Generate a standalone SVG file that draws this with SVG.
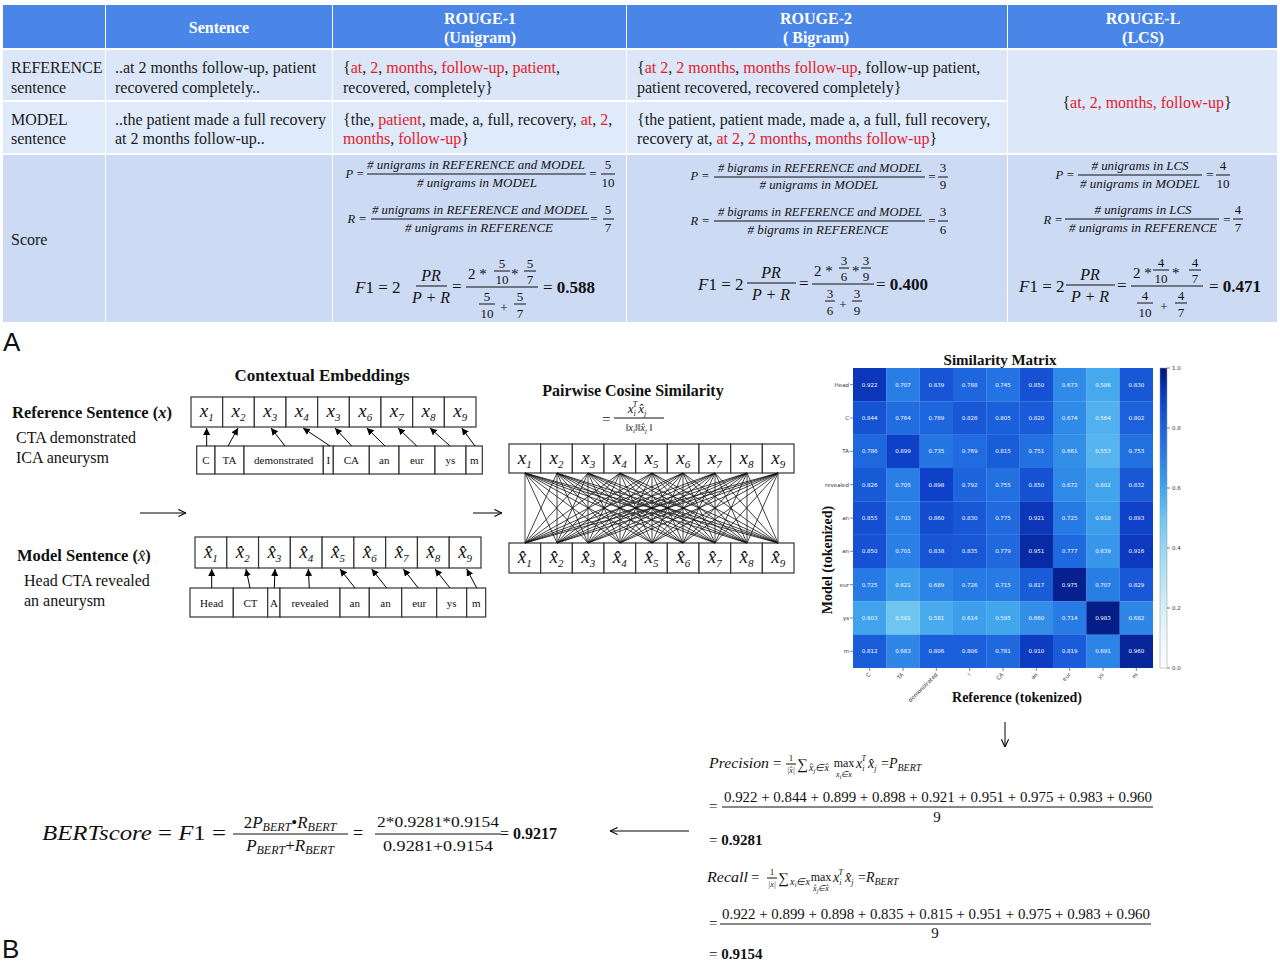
<svg xmlns="http://www.w3.org/2000/svg" width="1280" height="962" viewBox="0 0 1280 962">
<defs>
<style>
.tb{font-family:"Liberation Serif",serif;font-size:16px;fill:#1a1a1a}
.th{font-family:"Liberation Serif",serif;font-size:16px;font-weight:bold;fill:#fff;text-anchor:middle}
.r{fill:#e3192c}
.fi{font-family:"Liberation Serif",serif;font-style:italic;font-size:12.5px;text-anchor:middle;fill:#111}
.fn{font-family:"Liberation Serif",serif;font-size:13px;text-anchor:middle;fill:#111}
.fm{font-family:"Liberation Serif",serif;font-size:17px;fill:#111}
.fmc{font-family:"Liberation Serif",serif;font-size:16px;font-style:italic;text-anchor:middle;fill:#111}
.fl{stroke:#111;stroke-width:1}
.box{fill:#fff;stroke:#333;stroke-width:1.2}
.tok{font-family:"Liberation Serif",serif;font-size:11px;text-anchor:middle;fill:#111}
.emb{font-family:"Liberation Serif",serif;font-style:italic;font-size:19px;text-anchor:middle;fill:#111}
.ttl{font-family:"Liberation Serif",serif;font-weight:bold;fill:#111}
.sen{font-family:"Liberation Serif",serif;font-size:16px;fill:#111}
.cv{font-family:"DejaVu Sans",sans-serif;font-size:5.5px;fill:#fff;text-anchor:middle}
.ax{font-family:"DejaVu Sans",sans-serif;font-size:5.5px;fill:#333}
.arr{stroke:#000;stroke-width:1;fill:none}
.mt{font-family:"Liberation Serif",serif;fill:#111}
</style>
<marker id="ah" viewBox="0 0 10 10" refX="10" refY="5" markerWidth="7" markerHeight="7" orient="auto"><path d="M0,0 L10,5 L0,10 z" fill="#000"/></marker>
<marker id="oa" viewBox="0 0 10 10" refX="9.5" refY="5" markerWidth="9" markerHeight="9" orient="auto"><path d="M1,1 L9.5,5 L1,9" fill="none" stroke="#000" stroke-width="1.2"/></marker>
<linearGradient id="cb" x1="0" y1="0" x2="0" y2="1">
<stop offset="0" stop-color="#041678"/><stop offset="0.05" stop-color="#082aa5"/><stop offset="0.1" stop-color="#0e40c8"/><stop offset="0.2" stop-color="#1c62dc"/><stop offset="0.3" stop-color="#2a80e6"/><stop offset="0.4" stop-color="#40a4ec"/><stop offset="0.5" stop-color="#6ec6f0"/><stop offset="0.65" stop-color="#a8def5"/><stop offset="0.8" stop-color="#d6eff9"/><stop offset="1" stop-color="#ffffff"/>
</linearGradient>
</defs>
<rect width="1280" height="962" fill="#fff"/>

<!-- PANEL A: table -->
<g id="table">
<g id="header" fill="#4a86e8">
<rect x="3" y="5" width="102" height="43"/>
<rect x="106" y="5" width="226" height="43"/>
<rect x="333" y="5" width="293" height="43"/>
<rect x="627" y="5" width="380" height="43"/>
<rect x="1008" y="5" width="269" height="43"/>
</g>
<g id="rows">
<rect x="3" y="50" width="102" height="50" fill="#dbe7f8"/>
<rect x="106" y="50" width="226" height="50" fill="#dbe7f8"/>
<rect x="333" y="50" width="293" height="50" fill="#dbe7f8"/>
<rect x="627" y="50" width="380" height="50" fill="#dbe7f8"/>
<rect x="3" y="102" width="102" height="51" fill="#dfeafa"/>
<rect x="106" y="102" width="226" height="51" fill="#dfeafa"/>
<rect x="333" y="102" width="293" height="51" fill="#dfeafa"/>
<rect x="627" y="102" width="380" height="51" fill="#dfeafa"/>
<rect x="1008" y="50" width="269" height="103" fill="#dde9f9"/>
<rect x="3" y="155" width="102" height="167" fill="#cddaf4"/>
<rect x="106" y="155" width="226" height="167" fill="#cddaf4"/>
<rect x="333" y="155" width="293" height="167" fill="#cddaf4"/>
<rect x="627" y="155" width="380" height="167" fill="#cddaf4"/>
<rect x="1008" y="155" width="269" height="167" fill="#cddaf4"/>
</g>
<g id="header-text">
<text class="th" x="219" y="33">Sentence</text>
<text class="th" x="480" y="24">ROUGE-1</text>
<text class="th" x="480" y="43">(Unigram)</text>
<text class="th" x="816" y="24">ROUGE-2</text>
<text class="th" x="816" y="43">( Bigram)</text>
<text class="th" x="1143" y="24">ROUGE-L</text>
<text class="th" x="1143" y="43">(LCS)</text>
</g>
<g id="row-reference">
<text class="tb" x="11" y="73">REFERENCE</text>
<text class="tb" x="11" y="93">sentence</text>
<text class="tb" x="115" y="73">..at 2 months follow-up, patient</text>
<text class="tb" x="115" y="93">recovered completely..</text>
<text class="tb" x="343" y="73">{<tspan class="r">at</tspan>, <tspan class="r">2</tspan>, <tspan class="r">months</tspan>, <tspan class="r">follow-up</tspan>, <tspan class="r">patient</tspan>,</text>
<text class="tb" x="343" y="93">recovered, completely}</text>
<text class="tb" x="637" y="73">{<tspan class="r">at 2</tspan>, <tspan class="r">2 months</tspan>, <tspan class="r">months follow-up</tspan>, follow-up patient,</text>
<text class="tb" x="637" y="93">patient recovered, recovered completely}</text>
</g>
<g id="row-model">
<text class="tb" x="11" y="125">MODEL</text>
<text class="tb" x="11" y="144">sentence</text>
<text class="tb" x="115" y="125">..the patient made a full recovery</text>
<text class="tb" x="115" y="144">at 2 months follow-up..</text>
<text class="tb" x="343" y="125">{the, <tspan class="r">patient</tspan>, made, a, full, recovery, <tspan class="r">at</tspan>, <tspan class="r">2</tspan>,</text>
<text class="tb" x="343" y="144"><tspan class="r">months</tspan>, <tspan class="r">follow-up</tspan>}</text>
<text class="tb" x="637" y="125">{the patient, patient made, made a, a full, full recovery,</text>
<text class="tb" x="637" y="144">recovery at, <tspan class="r">at 2</tspan>, <tspan class="r">2 months</tspan>, <tspan class="r">months follow-up</tspan>}</text>
</g>
<g id="lcs-cell">
<text class="tb" x="1147" y="108" text-anchor="middle">{<tspan class="r">at, 2, months, follow-up</tspan>}</text>
</g>
<text class="tb" x="11" y="245">Score</text>

<g id="score-rouge1">
<text class="fi" x="355" y="178">P =</text>
<text class="fi" x="476" y="169" textLength="218" lengthAdjust="spacingAndGlyphs"># unigrams in REFERENCE and MODEL</text>
<line class="fl" x1="367" y1="174" x2="586" y2="174"/>
<text class="fi" x="477" y="187" textLength="120" lengthAdjust="spacingAndGlyphs"># unigrams in MODEL</text>
<text class="fn" x="593" y="178">=</text>
<text class="fn" x="608" y="169">5</text>
<line class="fl" x1="601" y1="174" x2="615" y2="174"/>
<text class="fn" x="608" y="187">10</text>
<text class="fi" x="357" y="223">R =</text>
<text class="fi" x="480" y="214" textLength="216" lengthAdjust="spacingAndGlyphs"># unigrams in REFERENCE and MODEL</text>
<line class="fl" x1="371" y1="219" x2="589" y2="219"/>
<text class="fi" x="479" y="232" textLength="148" lengthAdjust="spacingAndGlyphs"># unigrams in REFERENCE</text>
<text class="fn" x="594" y="223">=</text>
<text class="fn" x="608" y="214">5</text>
<line class="fl" x1="603" y1="219" x2="614" y2="219"/>
<text class="fn" x="608" y="232">7</text>
<text class="fm" x="355" y="293"><tspan font-style="italic">F</tspan>1 = 2</text>
<text class="fmc" x="431" y="281">PR</text>
<line class="fl" x1="416" y1="286" x2="447" y2="286"/>
<text class="fmc" x="431" y="303">P + R</text>
<text class="fm" x="452" y="292">=</text>
<text class="mt" x="468" y="279" font-size="15">2 *</text>
<text class="fn" x="502" y="268">5</text>
<line class="fl" x1="494" y1="271" x2="510" y2="271"/>
<text class="fn" x="502" y="284">10</text>
<text class="mt" x="511" y="279" font-size="15">*</text>
<text class="fn" x="530" y="268">5</text>
<line class="fl" x1="524" y1="271" x2="536" y2="271"/>
<text class="fn" x="530" y="284">7</text>
<line class="fl" x1="466" y1="287" x2="538" y2="287"/>
<text class="fn" x="487" y="301">5</text>
<line class="fl" x1="479" y1="304" x2="495" y2="304"/>
<text class="fn" x="487" y="318">10</text>
<text class="fn" x="504" y="312" font-size="16">+</text>
<text class="fn" x="520" y="301">5</text>
<line class="fl" x1="514" y1="304" x2="526" y2="304"/>
<text class="fn" x="520" y="318">7</text>
<text class="fm" x="543" y="293">= <tspan font-weight="bold">0.588</tspan></text>
</g>

<g id="score-rouge2">
<text class="fi" x="700" y="180">P =</text>
<text class="fi" x="820" y="172" textLength="204" lengthAdjust="spacingAndGlyphs"># bigrams in REFERENCE and MODEL</text>
<line class="fl" x1="714" y1="177" x2="925" y2="177"/>
<text class="fi" x="819" y="189" textLength="119" lengthAdjust="spacingAndGlyphs"># unigrams in MODEL</text>
<text class="fn" x="932" y="181">=</text>
<text class="fn" x="943" y="172">3</text>
<line class="fl" x1="938" y1="177" x2="948" y2="177"/>
<text class="fn" x="943" y="189">9</text>
<text class="fi" x="700" y="225">R =</text>
<text class="fi" x="820" y="216" textLength="204" lengthAdjust="spacingAndGlyphs"># bigrams in REFERENCE and MODEL</text>
<line class="fl" x1="714" y1="221" x2="925" y2="221"/>
<text class="fi" x="818" y="234" textLength="141" lengthAdjust="spacingAndGlyphs"># bigrams in REFERENCE</text>
<text class="fn" x="932" y="225">=</text>
<text class="fn" x="943" y="216">3</text>
<line class="fl" x1="938" y1="221" x2="948" y2="221"/>
<text class="fn" x="943" y="234">6</text>
<text class="fm" x="698" y="290"><tspan font-style="italic">F</tspan>1 = 2</text>
<text class="fmc" x="771" y="278">PR</text>
<line class="fl" x1="747" y1="283" x2="796" y2="283"/>
<text class="fmc" x="771" y="300">P + R</text>
<text class="fm" x="799" y="289">=</text>
<text class="mt" x="814" y="276" font-size="15">2 *</text>
<text class="fn" x="844" y="265">3</text>
<line class="fl" x1="839" y1="268" x2="849" y2="268"/>
<text class="fn" x="844" y="281">6</text>
<text class="mt" x="852" y="276" font-size="15">*</text>
<text class="fn" x="866" y="265">3</text>
<line class="fl" x1="861" y1="268" x2="871" y2="268"/>
<text class="fn" x="866" y="281">9</text>
<line class="fl" x1="812" y1="284" x2="874" y2="284"/>
<text class="fn" x="830" y="298">3</text>
<line class="fl" x1="825" y1="301" x2="835" y2="301"/>
<text class="fn" x="830" y="315">6</text>
<text class="fn" x="843" y="309" font-size="16">+</text>
<text class="fn" x="857" y="298">3</text>
<line class="fl" x1="852" y1="301" x2="862" y2="301"/>
<text class="fn" x="857" y="315">9</text>
<text class="fm" x="876" y="290">= <tspan font-weight="bold">0.400</tspan></text>
</g>

<g id="score-rougeL">
<text class="fi" x="1065" y="179">P =</text>
<text class="fi" x="1140" y="170" textLength="97" lengthAdjust="spacingAndGlyphs"># unigrams in LCS</text>
<line class="fl" x1="1078" y1="175" x2="1202" y2="175"/>
<text class="fi" x="1140" y="188" textLength="120" lengthAdjust="spacingAndGlyphs"># unigrams in MODEL</text>
<text class="fn" x="1210" y="179">=</text>
<text class="fn" x="1223" y="170">4</text>
<line class="fl" x1="1216" y1="175" x2="1230" y2="175"/>
<text class="fn" x="1223" y="188">10</text>
<text class="fi" x="1053" y="224">R =</text>
<text class="fi" x="1143" y="214" textLength="97" lengthAdjust="spacingAndGlyphs"># unigrams in LCS</text>
<line class="fl" x1="1065" y1="219" x2="1219" y2="219"/>
<text class="fi" x="1143" y="232" textLength="148" lengthAdjust="spacingAndGlyphs"># unigrams in REFERENCE</text>
<text class="fn" x="1227" y="224">=</text>
<text class="fn" x="1238" y="214">4</text>
<line class="fl" x1="1233" y1="219" x2="1243" y2="219"/>
<text class="fn" x="1238" y="232">7</text>
<text class="fm" x="1019" y="292"><tspan font-style="italic">F</tspan>1 = 2</text>
<text class="fmc" x="1090" y="280">PR</text>
<line class="fl" x1="1066" y1="285" x2="1115" y2="285"/>
<text class="fmc" x="1090" y="302">P + R</text>
<text class="fm" x="1117" y="291">=</text>
<text class="mt" x="1133" y="278" font-size="15">2 *</text>
<text class="fn" x="1161" y="267">4</text>
<line class="fl" x1="1153" y1="270" x2="1169" y2="270"/>
<text class="fn" x="1161" y="283">10</text>
<text class="mt" x="1172" y="278" font-size="15">*</text>
<text class="fn" x="1195" y="267">4</text>
<line class="fl" x1="1189" y1="270" x2="1201" y2="270"/>
<text class="fn" x="1195" y="283">7</text>
<line class="fl" x1="1131" y1="286" x2="1203" y2="286"/>
<text class="fn" x="1145" y="300">4</text>
<line class="fl" x1="1137" y1="303" x2="1153" y2="303"/>
<text class="fn" x="1145" y="317">10</text>
<text class="fn" x="1164" y="311" font-size="16">+</text>
<text class="fn" x="1181" y="300">4</text>
<line class="fl" x1="1175" y1="303" x2="1187" y2="303"/>
<text class="fn" x="1181" y="317">7</text>
<text class="fm" x="1209" y="292">= <tspan font-weight="bold">0.471</tspan></text>
</g>
</g>

<text x="3" y="351" font-family="Liberation Sans, sans-serif" font-size="26" fill="#111">A</text>
<text x="2" y="958" font-family="Liberation Sans, sans-serif" font-size="26" fill="#111">B</text>

<!-- PANEL B -->
<text class="ttl" x="322" y="381" font-size="17" text-anchor="middle">Contextual Embeddings</text>

<g id="reference-sentence">
<text class="ttl" x="12" y="418" font-size="16.5">Reference Sentence (<tspan font-style="italic">x</tspan>)</text>
<text class="sen" x="16" y="443">CTA demonstrated</text>
<text class="sen" x="16" y="463">ICA aneurysm</text>
</g>

<g id="reference-embeddings">
<rect class="box" x="191" y="397" width="31.67" height="30"/>
<rect class="box" x="222.67" y="397" width="31.67" height="30"/>
<rect class="box" x="254.33" y="397" width="31.67" height="30"/>
<rect class="box" x="286" y="397" width="31.67" height="30"/>
<rect class="box" x="317.67" y="397" width="31.67" height="30"/>
<rect class="box" x="349.33" y="397" width="31.67" height="30"/>
<rect class="box" x="381" y="397" width="31.67" height="30"/>
<rect class="box" x="412.67" y="397" width="31.67" height="30"/>
<rect class="box" x="444.33" y="397" width="31.67" height="30"/>
<text class="emb" x="206.8" y="417">x<tspan font-size="11" dy="4">1</tspan></text>
<text class="emb" x="238.5" y="417">x<tspan font-size="11" dy="4">2</tspan></text>
<text class="emb" x="270.2" y="417">x<tspan font-size="11" dy="4">3</tspan></text>
<text class="emb" x="301.8" y="417">x<tspan font-size="11" dy="4">4</tspan></text>
<text class="emb" x="333.5" y="417">x<tspan font-size="11" dy="4">3</tspan></text>
<text class="emb" x="365.2" y="417">x<tspan font-size="11" dy="4">6</tspan></text>
<text class="emb" x="396.8" y="417">x<tspan font-size="11" dy="4">7</tspan></text>
<text class="emb" x="428.5" y="417">x<tspan font-size="11" dy="4">8</tspan></text>
<text class="emb" x="460.2" y="417">x<tspan font-size="11" dy="4">9</tspan></text>
</g>

<g id="reference-tokens">
<rect class="box" x="196.7" y="446" width="18.3" height="28"/>
<rect class="box" x="215" y="446" width="29" height="28"/>
<rect class="box" x="244" y="446" width="79.3" height="28"/>
<rect class="box" x="323.3" y="446" width="10" height="28"/>
<rect class="box" x="333.3" y="446" width="36" height="28"/>
<rect class="box" x="369.3" y="446" width="29.7" height="28"/>
<rect class="box" x="399" y="446" width="36" height="28"/>
<rect class="box" x="435" y="446" width="31" height="28"/>
<rect class="box" x="466" y="446" width="16.3" height="28"/>
<text class="tok" x="205.8" y="464">C</text>
<text class="tok" x="229.5" y="464">TA</text>
<text class="tok" x="283.7" y="464">demonstrated</text>
<text class="tok" x="328.3" y="464">I</text>
<text class="tok" x="351.3" y="464">CA</text>
<text class="tok" x="384.2" y="464">an</text>
<text class="tok" x="417" y="464">eur</text>
<text class="tok" x="450.5" y="464">ys</text>
<text class="tok" x="474.2" y="464">m</text>
</g>

<g id="model-sentence">
<text class="ttl" x="17" y="561" font-size="16.5">Model Sentence (<tspan font-style="italic" font-weight="normal">x&#770;</tspan>)</text>
<text class="sen" x="24" y="586">Head CTA revealed</text>
<text class="sen" x="24" y="606">an aneurysm</text>
</g>

<g id="model-embeddings">
<rect class="box" x="195" y="537" width="31.78" height="31"/>
<rect class="box" x="226.78" y="537" width="31.78" height="31"/>
<rect class="box" x="258.56" y="537" width="31.78" height="31"/>
<rect class="box" x="290.33" y="537" width="31.78" height="31"/>
<rect class="box" x="322.11" y="537" width="31.78" height="31"/>
<rect class="box" x="353.89" y="537" width="31.78" height="31"/>
<rect class="box" x="385.67" y="537" width="31.78" height="31"/>
<rect class="box" x="417.44" y="537" width="31.78" height="31"/>
<rect class="box" x="449.22" y="537" width="31.78" height="31"/>
<text class="emb" x="210.9" y="558">x&#770;<tspan font-size="11" dy="4">1</tspan></text>
<text class="emb" x="242.7" y="558">x&#770;<tspan font-size="11" dy="4">2</tspan></text>
<text class="emb" x="274.4" y="558">x&#770;<tspan font-size="11" dy="4">3</tspan></text>
<text class="emb" x="306.2" y="558">x&#770;<tspan font-size="11" dy="4">4</tspan></text>
<text class="emb" x="338" y="558">x&#770;<tspan font-size="11" dy="4">5</tspan></text>
<text class="emb" x="369.8" y="558">x&#770;<tspan font-size="11" dy="4">6</tspan></text>
<text class="emb" x="401.6" y="558">x&#770;<tspan font-size="11" dy="4">7</tspan></text>
<text class="emb" x="433.3" y="558">x&#770;<tspan font-size="11" dy="4">8</tspan></text>
<text class="emb" x="465.1" y="558">x&#770;<tspan font-size="11" dy="4">9</tspan></text>
</g>

<g id="model-tokens">
<rect class="box" x="190" y="588" width="43.3" height="29"/>
<rect class="box" x="233.3" y="588" width="34.4" height="29"/>
<rect class="box" x="267.7" y="588" width="12.3" height="29"/>
<rect class="box" x="280" y="588" width="60" height="29"/>
<rect class="box" x="340" y="588" width="29.3" height="29"/>
<rect class="box" x="369.3" y="588" width="32.4" height="29"/>
<rect class="box" x="401.7" y="588" width="35" height="29"/>
<rect class="box" x="436.7" y="588" width="30" height="29"/>
<rect class="box" x="466.7" y="588" width="19" height="29"/>
<text class="tok" x="211.7" y="607">Head</text>
<text class="tok" x="250.5" y="607">CT</text>
<text class="tok" x="273.9" y="607">A</text>
<text class="tok" x="310" y="607">revealed</text>
<text class="tok" x="354.7" y="607">an</text>
<text class="tok" x="385.5" y="607">an</text>
<text class="tok" x="419.2" y="607">eur</text>
<text class="tok" x="451.7" y="607">ys</text>
<text class="tok" x="476.2" y="607">m</text>
</g>

<g id="pairwise-title">
<text class="ttl" x="633" y="396" font-size="16" text-anchor="middle">Pairwise Cosine Similarity</text>
<text class="mt" x="602" y="424" font-size="15">=</text>
<text class="mt" x="637" y="413" font-size="13" font-style="italic" text-anchor="middle">x<tspan font-size="8" dy="3">i</tspan><tspan font-size="8" dx="-3" dy="-9">T</tspan><tspan dy="6" dx="1">x&#770;</tspan><tspan font-size="8" dy="3">j</tspan></text>
<line class="fl" x1="614" y1="418" x2="664" y2="418"/>
<text class="mt" x="639" y="431" font-size="10" font-style="italic" text-anchor="middle">‖x<tspan font-size="7" dy="2">i</tspan><tspan dy="-2">‖‖x&#770;</tspan><tspan font-size="7" dy="2">j</tspan><tspan dy="-2"> ‖</tspan></text>
</g>

<g id="pairwise-top">
<rect class="box" x="509" y="444" width="31.67" height="29"/>
<rect class="box" x="540.67" y="444" width="31.67" height="29"/>
<rect class="box" x="572.33" y="444" width="31.67" height="29"/>
<rect class="box" x="604" y="444" width="31.67" height="29"/>
<rect class="box" x="635.67" y="444" width="31.67" height="29"/>
<rect class="box" x="667.33" y="444" width="31.67" height="29"/>
<rect class="box" x="699" y="444" width="31.67" height="29"/>
<rect class="box" x="730.67" y="444" width="31.67" height="29"/>
<rect class="box" x="762.33" y="444" width="31.67" height="29"/>
<text class="emb" x="524.8" y="464">x<tspan font-size="11" dy="4">1</tspan></text>
<text class="emb" x="556.5" y="464">x<tspan font-size="11" dy="4">2</tspan></text>
<text class="emb" x="588.2" y="464">x<tspan font-size="11" dy="4">3</tspan></text>
<text class="emb" x="619.8" y="464">x<tspan font-size="11" dy="4">4</tspan></text>
<text class="emb" x="651.5" y="464">x<tspan font-size="11" dy="4">5</tspan></text>
<text class="emb" x="683.2" y="464">x<tspan font-size="11" dy="4">6</tspan></text>
<text class="emb" x="714.8" y="464">x<tspan font-size="11" dy="4">7</tspan></text>
<text class="emb" x="746.5" y="464">x<tspan font-size="11" dy="4">8</tspan></text>
<text class="emb" x="778.2" y="464">x<tspan font-size="11" dy="4">9</tspan></text>
</g>

<g id="pairwise-bottom">
<rect class="box" x="509" y="543" width="31.67" height="30"/>
<rect class="box" x="540.67" y="543" width="31.67" height="30"/>
<rect class="box" x="572.33" y="543" width="31.67" height="30"/>
<rect class="box" x="604" y="543" width="31.67" height="30"/>
<rect class="box" x="635.67" y="543" width="31.67" height="30"/>
<rect class="box" x="667.33" y="543" width="31.67" height="30"/>
<rect class="box" x="699" y="543" width="31.67" height="30"/>
<rect class="box" x="730.67" y="543" width="31.67" height="30"/>
<rect class="box" x="762.33" y="543" width="31.67" height="30"/>
<text class="emb" x="524.8" y="563">x&#770;<tspan font-size="11" dy="4">1</tspan></text>
<text class="emb" x="556.5" y="563">x&#770;<tspan font-size="11" dy="4">2</tspan></text>
<text class="emb" x="588.2" y="563">x&#770;<tspan font-size="11" dy="4">3</tspan></text>
<text class="emb" x="619.8" y="563">x&#770;<tspan font-size="11" dy="4">4</tspan></text>
<text class="emb" x="651.5" y="563">x&#770;<tspan font-size="11" dy="4">5</tspan></text>
<text class="emb" x="683.2" y="563">x&#770;<tspan font-size="11" dy="4">6</tspan></text>
<text class="emb" x="714.8" y="563">x&#770;<tspan font-size="11" dy="4">7</tspan></text>
<text class="emb" x="746.5" y="563">x&#770;<tspan font-size="11" dy="4">8</tspan></text>
<text class="emb" x="778.2" y="563">x&#770;<tspan font-size="11" dy="4">9</tspan></text>
</g>

<g id="connectors">
<g id="token-arrows" stroke="#000" stroke-width="1" marker-end="url(#ah)">
<line x1="206.7" y1="446" x2="206.6" y2="428"/>
<line x1="228" y1="446" x2="238" y2="428"/>
<line x1="285" y1="446" x2="271" y2="428"/>
<line x1="330" y1="446" x2="303" y2="428"/>
<line x1="351.7" y1="446" x2="335" y2="428"/>
<line x1="385" y1="446" x2="366.7" y2="428"/>
<line x1="416.7" y1="446" x2="398" y2="428"/>
<line x1="450" y1="446" x2="430" y2="428"/>
<line x1="475" y1="446" x2="461.7" y2="428"/>
<line x1="211.7" y1="588" x2="211.7" y2="569"/>
<line x1="250" y1="588" x2="246" y2="569"/>
<line x1="274.3" y1="588" x2="275" y2="569"/>
<line x1="309.3" y1="588" x2="308.3" y2="569"/>
<line x1="355" y1="588" x2="340" y2="569"/>
<line x1="386.7" y1="588" x2="371.7" y2="569"/>
<line x1="418.3" y1="588" x2="403.3" y2="569"/>
<line x1="450" y1="588" x2="435" y2="569"/>
<line x1="476.7" y1="588" x2="466.7" y2="569"/>
</g>
<path id="cosine-links" stroke="#111" stroke-width="0.8" fill="none" d="M525 473L525 543M525 473L557 543M525 473L588 543M525 473L620 543M525 473L652 543M525 473L683 543M525 473L715 543M525 473L747 543M525 473L778 543M557 473L525 543M557 473L557 543M557 473L588 543M557 473L620 543M557 473L652 543M557 473L683 543M557 473L715 543M557 473L747 543M557 473L778 543M588 473L525 543M588 473L557 543M588 473L588 543M588 473L620 543M588 473L652 543M588 473L683 543M588 473L715 543M588 473L747 543M588 473L778 543M620 473L525 543M620 473L557 543M620 473L588 543M620 473L620 543M620 473L652 543M620 473L683 543M620 473L715 543M620 473L747 543M620 473L778 543M652 473L525 543M652 473L557 543M652 473L588 543M652 473L620 543M652 473L652 543M652 473L683 543M652 473L715 543M652 473L747 543M652 473L778 543M683 473L525 543M683 473L557 543M683 473L588 543M683 473L620 543M683 473L652 543M683 473L683 543M683 473L715 543M683 473L747 543M683 473L778 543M715 473L525 543M715 473L557 543M715 473L588 543M715 473L620 543M715 473L652 543M715 473L683 543M715 473L715 543M715 473L747 543M715 473L778 543M747 473L525 543M747 473L557 543M747 473L588 543M747 473L620 543M747 473L652 543M747 473L683 543M747 473L715 543M747 473L747 543M747 473L778 543M778 473L525 543M778 473L557 543M778 473L588 543M778 473L620 543M778 473L652 543M778 473L683 543M778 473L715 543M778 473L747 543M778 473L778 543"/>
<line class="arr" x1="140" y1="513" x2="186" y2="513" marker-end="url(#oa)"/>
<line class="arr" x1="473" y1="513" x2="502" y2="513" marker-end="url(#oa)"/>
<line class="arr" x1="1005" y1="722" x2="1005" y2="747" marker-end="url(#oa)"/>
<line class="arr" x1="689" y1="831" x2="610" y2="831" marker-end="url(#oa)"/>
</g>

<g id="similarity-matrix">
<text class="ttl" x="1000" y="365" font-size="15" text-anchor="middle">Similarity Matrix</text>
<g transform="translate(0,368)">
<rect x="853" width="33.5" height="33.5" fill="#0b36b9"/><rect x="886.3" width="33.5" height="33.5" fill="#297ee5"/><rect x="919.7" width="33.5" height="33.5" fill="#1755d4"/><rect x="953" width="33.5" height="33.5" fill="#1e66dd"/><rect x="986.3" width="33.5" height="33.5" fill="#2473e2"/><rect x="1019.7" width="33.5" height="33.5" fill="#1551d2"/><rect x="1053" width="33.5" height="33.5" fill="#308ae8"/><rect x="1086.3" width="33.5" height="33.5" fill="#46a9ed"/><rect x="1119.7" width="33.3" height="33.5" fill="#1858d6"/>
<text class="cv" y="18.7"><tspan x="869.7">0.922</tspan><tspan x="903">0.707</tspan><tspan x="936.3">0.839</tspan><tspan x="969.7">0.788</tspan><tspan x="1003">0.745</tspan><tspan x="1036.3">0.850</tspan><tspan x="1069.7">0.673</tspan><tspan x="1103">0.586</tspan><tspan x="1136.3">0.830</tspan></text>
</g>
<g transform="translate(0,401.33)">
<rect x="853" width="33.5" height="33.5" fill="#1653d3"/><rect x="886.3" width="33.5" height="33.5" fill="#216de0"/><rect x="919.7" width="33.5" height="33.5" fill="#1e66dd"/><rect x="953" width="33.5" height="33.5" fill="#1858d6"/><rect x="986.3" width="33.5" height="33.5" fill="#1b60db"/><rect x="1019.7" width="33.5" height="33.5" fill="#195bd8"/><rect x="1053" width="33.5" height="33.5" fill="#308ae8"/><rect x="1086.3" width="33.5" height="33.5" fill="#51b0ed"/><rect x="1119.7" width="33.3" height="33.5" fill="#1c61db"/>
<text class="cv" y="18.7"><tspan x="869.7">0.844</tspan><tspan x="903">0.764</tspan><tspan x="936.3">0.789</tspan><tspan x="969.7">0.828</tspan><tspan x="1003">0.805</tspan><tspan x="1036.3">0.820</tspan><tspan x="1069.7">0.674</tspan><tspan x="1103">0.564</tspan><tspan x="1136.3">0.802</tspan></text>
</g>
<g transform="translate(0,434.67)">
<rect x="853" width="33.5" height="33.5" fill="#1e67dd"/><rect x="886.3" width="33.5" height="33.5" fill="#0e40c8"/><rect x="919.7" width="33.5" height="33.5" fill="#2576e3"/><rect x="953" width="33.5" height="33.5" fill="#206bdf"/><rect x="986.3" width="33.5" height="33.5" fill="#1a5dd9"/><rect x="1019.7" width="33.5" height="33.5" fill="#2371e1"/><rect x="1053" width="33.5" height="33.5" fill="#338ee8"/><rect x="1086.3" width="33.5" height="33.5" fill="#56b4ee"/><rect x="1119.7" width="33.3" height="33.5" fill="#2371e1"/>
<text class="cv" y="18.7"><tspan x="869.7">0.786</tspan><tspan x="903">0.899</tspan><tspan x="936.3">0.735</tspan><tspan x="969.7">0.769</tspan><tspan x="1003">0.815</tspan><tspan x="1036.3">0.751</tspan><tspan x="1069.7">0.661</tspan><tspan x="1103">0.553</tspan><tspan x="1136.3">0.753</tspan></text>
</g>
<g transform="translate(0,468)">
<rect x="853" width="33.5" height="33.5" fill="#1859d6"/><rect x="886.3" width="33.5" height="33.5" fill="#2a7fe6"/><rect x="919.7" width="33.5" height="33.5" fill="#0e41c8"/><rect x="953" width="33.5" height="33.5" fill="#1e65dd"/><rect x="986.3" width="33.5" height="33.5" fill="#2370e1"/><rect x="1019.7" width="33.5" height="33.5" fill="#1551d2"/><rect x="1053" width="33.5" height="33.5" fill="#308ae8"/><rect x="1086.3" width="33.5" height="33.5" fill="#40a3ec"/><rect x="1119.7" width="33.3" height="33.5" fill="#1857d5"/>
<text class="cv" y="18.7"><tspan x="869.7">0.826</tspan><tspan x="903">0.705</tspan><tspan x="936.3">0.898</tspan><tspan x="969.7">0.792</tspan><tspan x="1003">0.755</tspan><tspan x="1036.3">0.850</tspan><tspan x="1069.7">0.672</tspan><tspan x="1103">0.602</tspan><tspan x="1136.3">0.832</tspan></text>
</g>
<g transform="translate(0,501.33)">
<rect x="853" width="33.5" height="33.5" fill="#144fd1"/><rect x="886.3" width="33.5" height="33.5" fill="#2a7fe6"/><rect x="919.7" width="33.5" height="33.5" fill="#144ed0"/><rect x="953" width="33.5" height="33.5" fill="#1858d6"/><rect x="986.3" width="33.5" height="33.5" fill="#206ade"/><rect x="1019.7" width="33.5" height="33.5" fill="#0c37b9"/><rect x="1053" width="33.5" height="33.5" fill="#2779e4"/><rect x="1086.3" width="33.5" height="33.5" fill="#3c9eeb"/><rect x="1119.7" width="33.3" height="33.5" fill="#0f42c9"/>
<text class="cv" y="18.7"><tspan x="869.7">0.855</tspan><tspan x="903">0.703</tspan><tspan x="936.3">0.860</tspan><tspan x="969.7">0.830</tspan><tspan x="1003">0.775</tspan><tspan x="1036.3">0.921</tspan><tspan x="1069.7">0.725</tspan><tspan x="1103">0.618</tspan><tspan x="1136.3">0.893</tspan></text>
</g>
<g transform="translate(0,534.67)">
<rect x="853" width="33.5" height="33.5" fill="#1551d2"/><rect x="886.3" width="33.5" height="33.5" fill="#2a80e6"/><rect x="919.7" width="33.5" height="33.5" fill="#1755d4"/><rect x="953" width="33.5" height="33.5" fill="#1756d4"/><rect x="986.3" width="33.5" height="33.5" fill="#1f68de"/><rect x="1019.7" width="33.5" height="33.5" fill="#082aa4"/><rect x="1053" width="33.5" height="33.5" fill="#1f69de"/><rect x="1086.3" width="33.5" height="33.5" fill="#3796ea"/><rect x="1119.7" width="33.3" height="33.5" fill="#0c39bd"/>
<text class="cv" y="18.7"><tspan x="869.7">0.850</tspan><tspan x="903">0.701</tspan><tspan x="936.3">0.838</tspan><tspan x="969.7">0.835</tspan><tspan x="1003">0.779</tspan><tspan x="1036.3">0.951</tspan><tspan x="1069.7">0.777</tspan><tspan x="1103">0.639</tspan><tspan x="1136.3">0.916</tspan></text>
</g>
<g transform="translate(0,568)">
<rect x="853" width="33.5" height="33.5" fill="#2779e4"/><rect x="886.3" width="33.5" height="33.5" fill="#3b9ceb"/><rect x="919.7" width="33.5" height="33.5" fill="#2c84e7"/><rect x="953" width="33.5" height="33.5" fill="#2779e4"/><rect x="986.3" width="33.5" height="33.5" fill="#287be4"/><rect x="1019.7" width="33.5" height="33.5" fill="#195cd8"/><rect x="1053" width="33.5" height="33.5" fill="#06208f"/><rect x="1086.3" width="33.5" height="33.5" fill="#297ee5"/><rect x="1119.7" width="33.3" height="33.5" fill="#1858d6"/>
<text class="cv" y="18.7"><tspan x="869.7">0.725</tspan><tspan x="903">0.621</tspan><tspan x="936.3">0.689</tspan><tspan x="969.7">0.726</tspan><tspan x="1003">0.715</tspan><tspan x="1036.3">0.817</tspan><tspan x="1069.7">0.975</tspan><tspan x="1103">0.707</tspan><tspan x="1136.3">0.829</tspan></text>
</g>
<g transform="translate(0,601.33)">
<rect x="853" width="33.5" height="33.5" fill="#40a3ec"/><rect x="886.3" width="33.5" height="33.5" fill="#6ec6f0"/><rect x="919.7" width="33.5" height="33.5" fill="#49abed"/><rect x="953" width="33.5" height="33.5" fill="#3d9feb"/><rect x="986.3" width="33.5" height="33.5" fill="#42a6ec"/><rect x="1019.7" width="33.5" height="33.5" fill="#348ee8"/><rect x="1053" width="33.5" height="33.5" fill="#287be4"/><rect x="1086.3" width="33.5" height="33.5" fill="#051d87"/><rect x="1119.7" width="33.3" height="33.5" fill="#2e87e7"/>
<text class="cv" y="18.7"><tspan x="869.7">0.603</tspan><tspan x="903">0.501</tspan><tspan x="936.3">0.581</tspan><tspan x="969.7">0.614</tspan><tspan x="1003">0.595</tspan><tspan x="1036.3">0.660</tspan><tspan x="1069.7">0.714</tspan><tspan x="1103">0.983</tspan><tspan x="1136.3">0.682</tspan></text>
</g>
<g transform="translate(0,634.67)">
<rect x="853" width="33.5" height="33.3" fill="#1a5dd9"/><rect x="886.3" width="33.5" height="33.3" fill="#2e86e7"/><rect x="919.7" width="33.5" height="33.3" fill="#1b5fda"/><rect x="953" width="33.5" height="33.3" fill="#1b5fda"/><rect x="986.3" width="33.5" height="33.3" fill="#1f68de"/><rect x="1019.7" width="33.5" height="33.3" fill="#0d3cc1"/><rect x="1053" width="33.5" height="33.3" fill="#195bd8"/><rect x="1086.3" width="33.5" height="33.3" fill="#2c84e7"/><rect x="1119.7" width="33.3" height="33.3" fill="#07269c"/>
<text class="cv" y="18.7"><tspan x="869.7">0.812</tspan><tspan x="903">0.683</tspan><tspan x="936.3">0.806</tspan><tspan x="969.7">0.806</tspan><tspan x="1003">0.781</tspan><tspan x="1036.3">0.910</tspan><tspan x="1069.7">0.819</tspan><tspan x="1103">0.691</tspan><tspan x="1136.3">0.960</tspan></text>
</g>
<g id="row-labels" class="ax" text-anchor="end">
<text x="849" y="386.7">Head</text>
<text x="849" y="420">C</text>
<text x="849" y="453.3">TA</text>
<text x="849" y="486.7">revealed</text>
<text x="849" y="520">an</text>
<text x="849" y="553.3">an</text>
<text x="849" y="586.7">eur</text>
<text x="849" y="620">ys</text>
<text x="849" y="653.3">m</text>
</g>
<path stroke="#333" stroke-width="0.6" d="M850 384.7H853M850 418H853M850 451.3H853M850 484.7H853M850 518H853M850 551.3H853M850 584.7H853M850 618H853M850 651.3H853M869.7 668V671M903 668V671M936.3 668V671M969.7 668V671M1003 668V671M1036.3 668V671M1069.7 668V671M1103 668V671M1136.3 668V671"/>
<g id="col-labels" class="ax" text-anchor="end">
<text x="871" y="675" transform="rotate(-45 871 675)">C</text>
<text x="904" y="675" transform="rotate(-45 904 675)">TA</text>
<text x="938" y="675" transform="rotate(-45 938 675)">demonstrated</text>
<text x="971" y="675" transform="rotate(-45 971 675)">I</text>
<text x="1004" y="675" transform="rotate(-45 1004 675)">CA</text>
<text x="1038" y="675" transform="rotate(-45 1038 675)">an</text>
<text x="1071" y="675" transform="rotate(-45 1071 675)">eur</text>
<text x="1104" y="675" transform="rotate(-45 1104 675)">ys</text>
<text x="1138" y="675" transform="rotate(-45 1138 675)">m</text>
</g>
<text class="ttl" font-size="14" text-anchor="middle" transform="translate(832,560) rotate(-90)">Model (tokenized)</text>
<text class="ttl" x="1017" y="702" font-size="14" text-anchor="middle">Reference (tokenized)</text>
<g id="colorbar">
<rect x="1160" y="368" width="7" height="300" fill="url(#cb)" stroke="#999" stroke-width="0.5"/>
<path stroke="#333" stroke-width="0.6" d="M1167 368H1170M1167 428H1170M1167 488H1170M1167 548H1170M1167 608H1170M1167 668H1170"/>
<g class="ax">
<text x="1172" y="370">1.0</text>
<text x="1172" y="430">0.8</text>
<text x="1172" y="490">0.6</text>
<text x="1172" y="550">0.4</text>
<text x="1172" y="610">0.2</text>
<text x="1172" y="670">0.0</text>
</g>
</g>
</g>

<g id="precision">
<text class="mt" x="709" y="768" font-size="15" font-style="italic" textLength="60" lengthAdjust="spacingAndGlyphs">Precision</text>
<text class="mt" x="773" y="768" font-size="15">=</text>
<text class="mt" x="791" y="761" font-size="9" text-anchor="middle">1</text>
<line class="fl" x1="786" y1="764" x2="796" y2="764" stroke-width="0.7"/>
<text class="mt" x="791" y="773" font-size="8" text-anchor="middle" font-style="italic">|x&#770;|</text>
<text class="mt" x="797" y="769" font-size="15">∑</text>
<text class="mt" x="809" y="771" font-size="10" font-style="italic">x&#770;<tspan font-size="7" dy="2">j</tspan><tspan dy="-2">∈x&#770;</tspan></text>
<text class="mt" x="844" y="767" font-size="12" text-anchor="middle">max</text>
<text class="mt" x="844" y="777" font-size="8" font-style="italic" text-anchor="middle">x<tspan font-size="6" dy="1.5">i</tspan><tspan dy="-1.5">∈x</tspan></text>
<text class="mt" x="856" y="768" font-size="14" font-style="italic">x<tspan font-size="8" dy="3">i</tspan><tspan font-size="8" dx="-3" dy="-10">T</tspan><tspan dy="7" dx="2">x&#770;</tspan><tspan font-size="8" dy="3">j</tspan></text>
<text class="mt" x="881" y="768" font-size="14">=<tspan font-style="italic">P</tspan><tspan font-style="italic" font-size="10" dy="3">BERT</tspan></text>
<text class="mt" x="709" y="811" font-size="15">=</text>
<text class="mt" x="938" y="802" font-size="15" text-anchor="middle" textLength="428" lengthAdjust="spacingAndGlyphs">0.922 + 0.844 + 0.899 + 0.898 + 0.921 + 0.951 + 0.975 + 0.983 + 0.960</text>
<line class="fl" x1="722" y1="807" x2="1153" y2="807"/>
<text class="mt" x="937" y="822" font-size="15" text-anchor="middle">9</text>
<text class="mt" x="709" y="845" font-size="15">= <tspan font-weight="bold">0.9281</tspan></text>
</g>

<g id="recall">
<text class="mt" x="707" y="882" font-size="15" font-style="italic" textLength="41" lengthAdjust="spacingAndGlyphs">Recall</text>
<text class="mt" x="751" y="882" font-size="15">=</text>
<text class="mt" x="772" y="875" font-size="9" text-anchor="middle">1</text>
<line class="fl" x1="767" y1="878" x2="777" y2="878" stroke-width="0.7"/>
<text class="mt" x="772" y="887" font-size="8" text-anchor="middle" font-style="italic">|x|</text>
<text class="mt" x="778" y="883" font-size="15">∑</text>
<text class="mt" x="790" y="885" font-size="10" font-style="italic">x<tspan font-size="7" dy="2">i</tspan><tspan dy="-2">∈x</tspan></text>
<text class="mt" x="821" y="881" font-size="12" text-anchor="middle">max</text>
<text class="mt" x="821" y="891" font-size="8" font-style="italic" text-anchor="middle">x&#770;<tspan font-size="6" dy="1.5">j</tspan><tspan dy="-1.5">∈x&#770;</tspan></text>
<text class="mt" x="833" y="882" font-size="14" font-style="italic">x<tspan font-size="8" dy="3">i</tspan><tspan font-size="8" dx="-3" dy="-10">T</tspan><tspan dy="7" dx="2">x&#770;</tspan><tspan font-size="8" dy="3">j</tspan></text>
<text class="mt" x="858" y="882" font-size="14">=<tspan font-style="italic">R</tspan><tspan font-style="italic" font-size="10" dy="3">BERT</tspan></text>
<text class="mt" x="709" y="928" font-size="15">=</text>
<text class="mt" x="936" y="919" font-size="15" text-anchor="middle" textLength="428" lengthAdjust="spacingAndGlyphs">0.922 + 0.899 + 0.898 + 0.835 + 0.815 + 0.951 + 0.975 + 0.983 + 0.960</text>
<line class="fl" x1="720" y1="924" x2="1151" y2="924"/>
<text class="mt" x="935" y="938" font-size="15" text-anchor="middle">9</text>
<text class="mt" x="709" y="959" font-size="15">= <tspan font-weight="bold">0.9154</tspan></text>
</g>

<g id="bertscore">
<text class="mt" x="42" y="840" font-size="22" textLength="184" lengthAdjust="spacingAndGlyphs"><tspan font-style="italic">BERTscore</tspan> = <tspan font-style="italic">F</tspan>1 =</text>
<text class="mt" x="290" y="828" font-size="17" text-anchor="middle">2<tspan font-style="italic">P</tspan><tspan font-style="italic" font-size="12" dy="3">BERT</tspan><tspan dy="-3">•</tspan><tspan font-style="italic">R</tspan><tspan font-style="italic" font-size="12" dy="3">BERT</tspan></text>
<line class="fl" x1="233" y1="834" x2="348" y2="834"/>
<text class="mt" x="290" y="851" font-size="17" text-anchor="middle"><tspan font-style="italic">P</tspan><tspan font-style="italic" font-size="12" dy="3">BERT</tspan><tspan dy="-3">+</tspan><tspan font-style="italic">R</tspan><tspan font-style="italic" font-size="12" dy="3">BERT</tspan></text>
<text class="mt" x="353" y="839" font-size="18">=</text>
<text class="mt" x="438" y="827" font-size="14" text-anchor="middle" textLength="122" lengthAdjust="spacingAndGlyphs">2*0.9281*0.9154</text>
<line class="fl" x1="375" y1="834" x2="501" y2="834"/>
<text class="mt" x="438" y="851" font-size="14" text-anchor="middle" textLength="110" lengthAdjust="spacingAndGlyphs">0.9281+0.9154</text>
<text class="mt" x="500" y="839" font-size="16">= <tspan font-weight="bold">0.9217</tspan></text>
</g>
</svg>
